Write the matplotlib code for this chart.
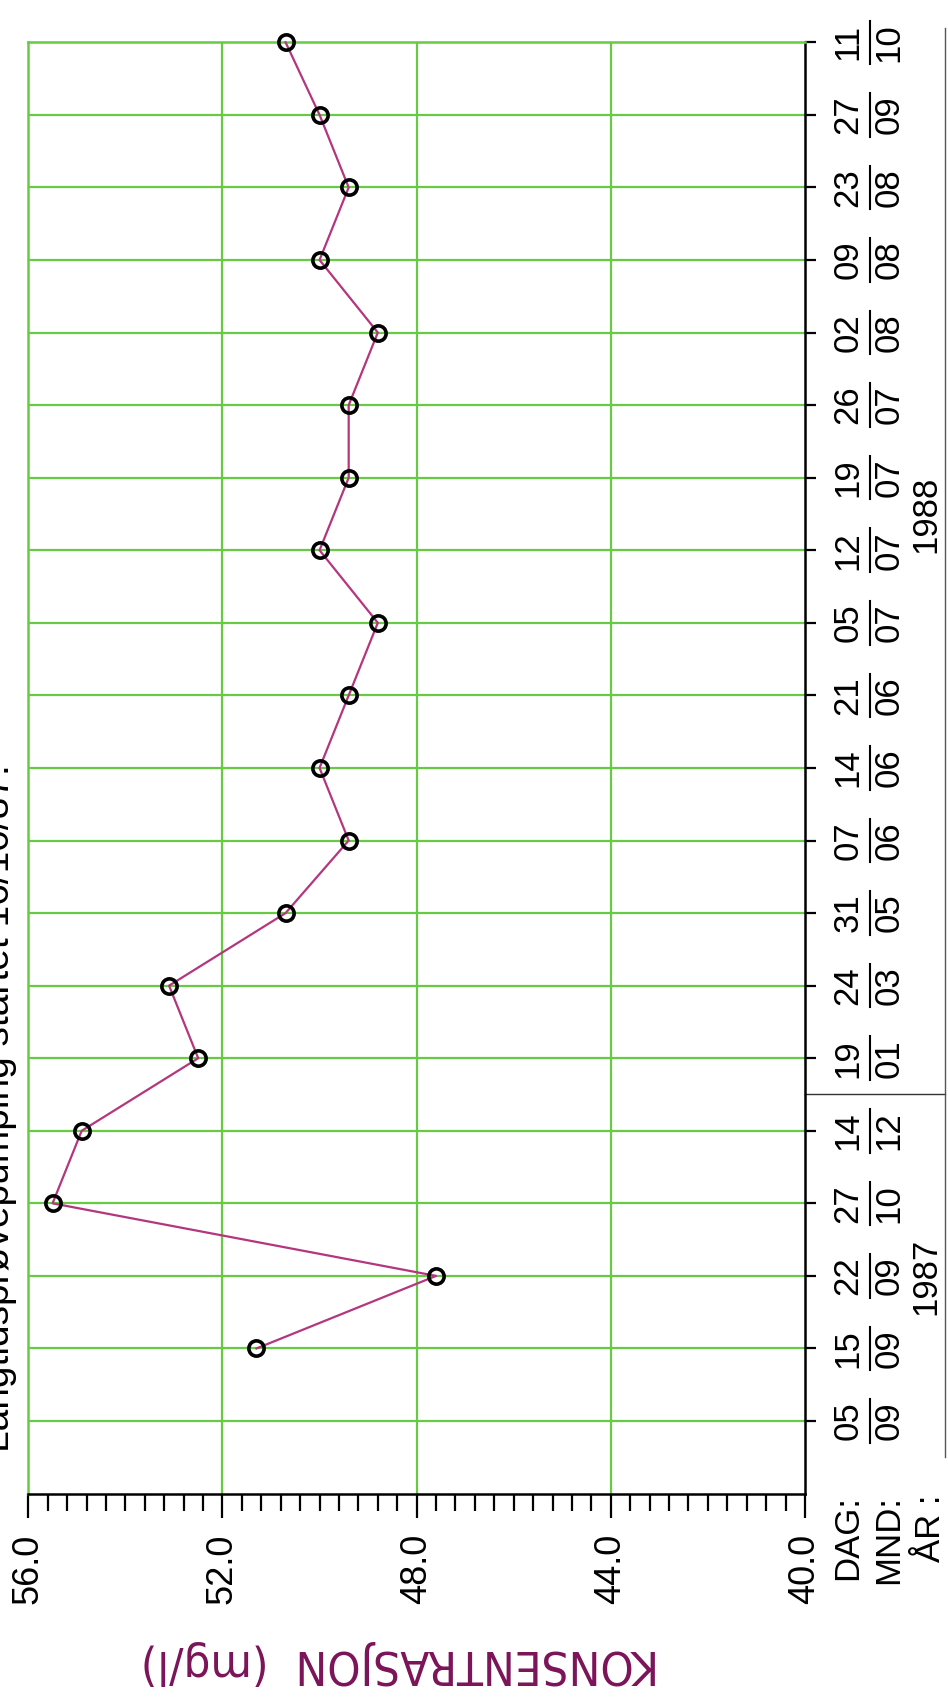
import numpy as np
import matplotlib
matplotlib.use('agg')
import matplotlib.pyplot as plt
from matplotlib.ticker import MultipleLocator, FixedLocator
from matplotlib.lines import Line2D
import matplotlib.transforms as mtransforms

# sampling dates (day / month), oldest first
days = ['05', '15', '22', '27', '14', '19', '24', '31', '07', '14',
        '21', '05', '12', '19', '26', '02', '09', '23', '27', '11']
months = ['09', '09', '09', '10', '12', '01', '03', '05', '06', '06',
          '06', '07', '07', '07', '07', '08', '08', '08', '09', '10']
years = ['1987', '1988']
samples_per_year = [5, 15]

# concentration in mg/l, no sample on 05/09
konsentrasjon = [np.nan, 51.3, 47.6, 55.5, 54.9, 52.5, 53.1, 50.7, 49.4, 50.0,
                 49.4, 48.8, 50.0, 49.4, 49.4, 48.8, 50.0, 49.4, 50.0, 50.7]

conc_ticks = [56.0, 52.0, 48.0, 44.0, 40.0]

title = 'Langtidsprøvepumping startet 16/10/87.'
xlabel = 'KONSENTRASJON  (mg/l)'
row_names = ['DAG:', 'MND:', 'ÅR :']

GREEN = '#66cb42'
LINE = '#b3367f'
PURPLE = '#7b1359'
W, H = 948, 1700

plt.rcParams['font.family'] = ['Liberation Sans', 'DejaVu Sans']

fig = plt.figure(figsize=(W / 100, H / 100), dpi=100)
fig.patch.set_facecolor('white')

# plot area in pixels: left 28, right 805, top 42, bottom 1494
left, right, top, bottom = 28.3, 805.0, 42.3, 1493.6
ax = fig.add_axes([left / W, 1 - bottom / H, (right - left) / W, (bottom - top) / H])

rows = np.arange(len(days))
ax.set_xlim(conc_ticks[0], conc_ticks[-1])
ax.set_ylim(-1, rows[-1])

# green grid
ax.vlines(conc_ticks[1:-1], -1, rows[-1], colors=GREEN, lw=1.6, zorder=1)
ax.hlines(rows[:-1], conc_ticks[0], conc_ticks[-1], colors=GREEN, lw=1.6, zorder=1)

ax.plot(konsentrasjon, rows, color=LINE, lw=1.6, marker='o', ms=11,
        mfc='none', mec='black', mew=2.6, zorder=3, clip_on=False)

for side in ['left', 'top']:
    ax.spines[side].set_color(GREEN)
    ax.spines[side].set_linewidth(1.8)
for side in ['right', 'bottom']:
    ax.spines[side].set_color('black')
    ax.spines[side].set_linewidth(1.8)

# concentration axis
ax.xaxis.set_major_locator(FixedLocator(conc_ticks))
ax.xaxis.set_minor_locator(MultipleLocator(0.4))
ax.set_xticklabels(['%.1f' % v for v in conc_ticks], rotation=90, fontsize=26)
ax.tick_params(axis='x', which='major', direction='out', length=17, width=1.6, pad=12)
ax.tick_params(axis='x', which='minor', direction='out', length=12, width=1.6)

# date axis on the right
ax.yaxis.tick_right()
ax.set_yticks(rows)
ax.set_yticklabels([])
ax.tick_params(axis='y', which='major', direction='out', length=8, width=1.6)

blend = mtransforms.blended_transform_factory(fig.transFigure, ax.transData)
for i in rows:
    ax.text(848 / W, i, days[i], rotation=90, ha='center', va='center',
            fontsize=25, transform=blend)
    ax.text(889 / W, i, months[i], rotation=90, ha='center', va='center',
            fontsize=25, transform=blend)
    ax.plot([870 / W, 870 / W], [i - 0.3, i + 0.3], color='black', lw=1.5,
            transform=blend, clip_on=False)

start = 0
for yr, n in zip(years, samples_per_year):
    mid = start + (n - 1) / 2
    if start > 0:
        mid += 0.5
    ax.text(926 / W, mid, yr, rotation=90, ha='center', va='center',
            fontsize=25, transform=blend)
    start += n

# year separator
sep = samples_per_year[0] - 0.5
ax.plot([right / W, 945 / W], [sep, sep], color='#333333', lw=1.0,
        transform=blend, clip_on=False)
fig.add_artist(Line2D([945 / W, 945 / W], [1 - 28 / H, 1 - 1457 / H],
                      color='#555555', lw=1.0, transform=fig.transFigure))

for name, xp in zip(row_names, [848, 889, 930]):
    ax.text(xp / W, -1.02, name, rotation=90, ha='center', va='top',
            fontsize=25, transform=blend)

fig.text(9 / W, 1 - 1452 / H, title, rotation=90, rotation_mode='anchor',
         ha='left', va='baseline', fontsize=28)

fig.text(400 / W, 1 - 1662 / H, xlabel, rotation=180, ha='center', va='center',
         color=PURPLE, fontsize=34, family=['Liberation Sans Narrow', 'DejaVu Sans'],
         fontstretch='condensed')

fig.savefig('out.png', dpi=100, facecolor='white')
